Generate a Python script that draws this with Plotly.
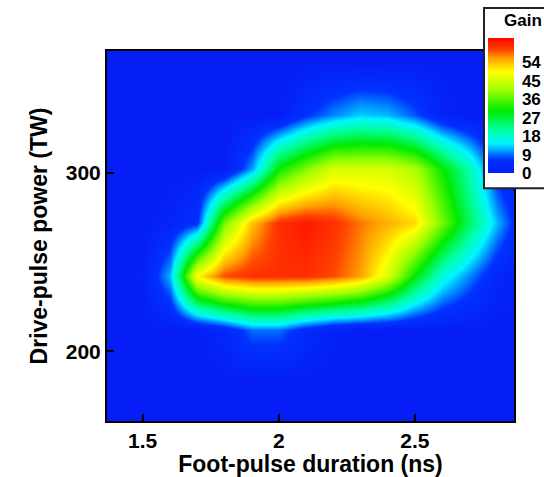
import plotly.graph_objects as go

# Foot-pulse duration (ns) and drive-pulse power (TW) sample grid
duration_ns = [1.3, 1.4, 1.5, 1.6, 1.7, 1.8, 1.9, 2.0, 2.1, 2.2, 2.3, 2.4, 2.5, 2.6, 2.7, 2.8, 2.9]
power_tw = [152, 182, 212, 242, 272, 302, 332, 362, 392]

# Gain on the grid, one row per drive-pulse power
gain = [
    [0, 0, 0, 0, 0, 0, 0, 0, 0, 0, 0, 0, 0, 0, 0, 0, 0],
    [0, 0, 0, 0, 0, 0, 0, 0, 0, 0, 0, 0, 0, 0, 0, 0, 0],
    [0, 0, 0, 0, 0, 3, 9, 9, 4, 1, 0, 0, 0, 0, 0, 0, 0],
    [0, 0, 1, 12, 50, 60, 62, 62, 62, 60, 56, 46, 30, 17, 10, 3, 0],
    [0, 0, 0, 2, 6, 38, 54, 62, 64, 62, 58, 55, 52, 38, 25, 12, 2],
    [0, 0, 0, 0, 0, 0, 11, 31, 39, 46, 46, 46, 42, 31, 20, 5, 0],
    [0, 0, 0, 0, 0, 0, 0, 0, 6, 10, 13, 12, 8, 2, 0, 0, 0],
    [0, 0, 0, 0, 0, 0, 0, 0, 0, 0, 0, 0, 0, 0, 0, 0, 0],
    [0, 0, 0, 0, 0, 0, 0, 0, 0, 0, 0, 0, 0, 0, 0, 0, 0],
]

gain_ticks = [0, 9, 18, 27, 36, 45, 54]
x_ticks = [1.5, 2, 2.5]
y_ticks = [200, 300]

FONT = "Liberation Sans, Arial, sans-serif"

# plot area in pixels: left 107, right 514, top 51, bottom 420
PX_L, PX_W, PX_T, PX_H = 107, 407, 51, 369


def px_x(px):
    return (px - PX_L) / PX_W


def px_y(py):
    return 1 + (PX_T - py) / PX_H


jet = [
    [0.00, "rgb(5,30,245)"],
    [0.10, "rgb(0,50,255)"],
    [0.16, "rgb(0,150,255)"],
    [0.22, "rgb(0,245,255)"],
    [0.32, "rgb(0,255,160)"],
    [0.46, "rgb(0,235,0)"],
    [0.62, "rgb(160,255,0)"],
    [0.75, "rgb(255,255,0)"],
    [0.85, "rgb(255,160,0)"],
    [0.91, "rgb(255,70,0)"],
    [1.00, "rgb(255,0,0)"],
]

fig = go.Figure(
    go.Heatmap(
        x=duration_ns,
        y=power_tw,
        z=gain,
        zmin=0,
        zmax=66,
        zsmooth="best",
        colorscale=jet,
        colorbar=dict(
            tickvals=gain_ticks,
            ticks="outside",
            ticklen=5,
            tickcolor="rgba(0,0,0,0)",
            tickfont=dict(family=FONT, size=17, color="black", weight=700),
            thickness=26,
            thicknessmode="pixels",
            len=135,
            lenmode="pixels",
            x=px_x(488),
            xanchor="left",
            y=px_y(38),
            yanchor="top",
            xpad=0,
            ypad=0,
            outlinewidth=0,
            bgcolor="rgba(0,0,0,0)",
            borderwidth=0,
        ),
    )
)

# legend frame behind the colour bar
fig.add_shape(
    type="rect",
    xref="paper", yref="paper",
    x0=px_x(484), x1=px_x(580),
    y0=px_y(188), y1=px_y(8),
    fillcolor="white",
    line=dict(color="#222", width=2),
    layer="above",
)
fig.add_annotation(
    text="Gain",
    xref="paper", yref="paper",
    x=px_x(502), y=px_y(21),
    xanchor="left", yanchor="middle",
    showarrow=False,
    font=dict(family=FONT, size=17, color="black", weight=700),
)

axis_common = dict(
    ticks="inside",
    ticklen=7,
    tickwidth=2,
    tickcolor="black",
    showline=True,
    linewidth=2,
    linecolor="black",
    mirror=True,
    showgrid=False,
    zeroline=False,
    tickfont=dict(family=FONT, size=21, color="black", weight=700),
)

fig.update_xaxes(
    range=[1.369, 2.864],
    tickvals=x_ticks,
    ticktext=["1.5", "2", "2.5"],
    title=dict(text="Foot-pulse duration (ns)", standoff=14,
               font=dict(family=FONT, size=23, color="black", weight=700)),
    **axis_common,
)
fig.update_yaxes(
    range=[161, 368],
    tickvals=y_ticks,
    title=dict(text="Drive-pulse power (TW)", standoff=12,
               font=dict(family=FONT, size=23, color="black", weight=700)),
    **axis_common,
)

fig.update_layout(
    width=544,
    height=477,
    margin=dict(l=107, r=30, t=51, b=56, autoexpand=False),
    paper_bgcolor="white",
    plot_bgcolor="white",
)

fig.write_html("out.html")
